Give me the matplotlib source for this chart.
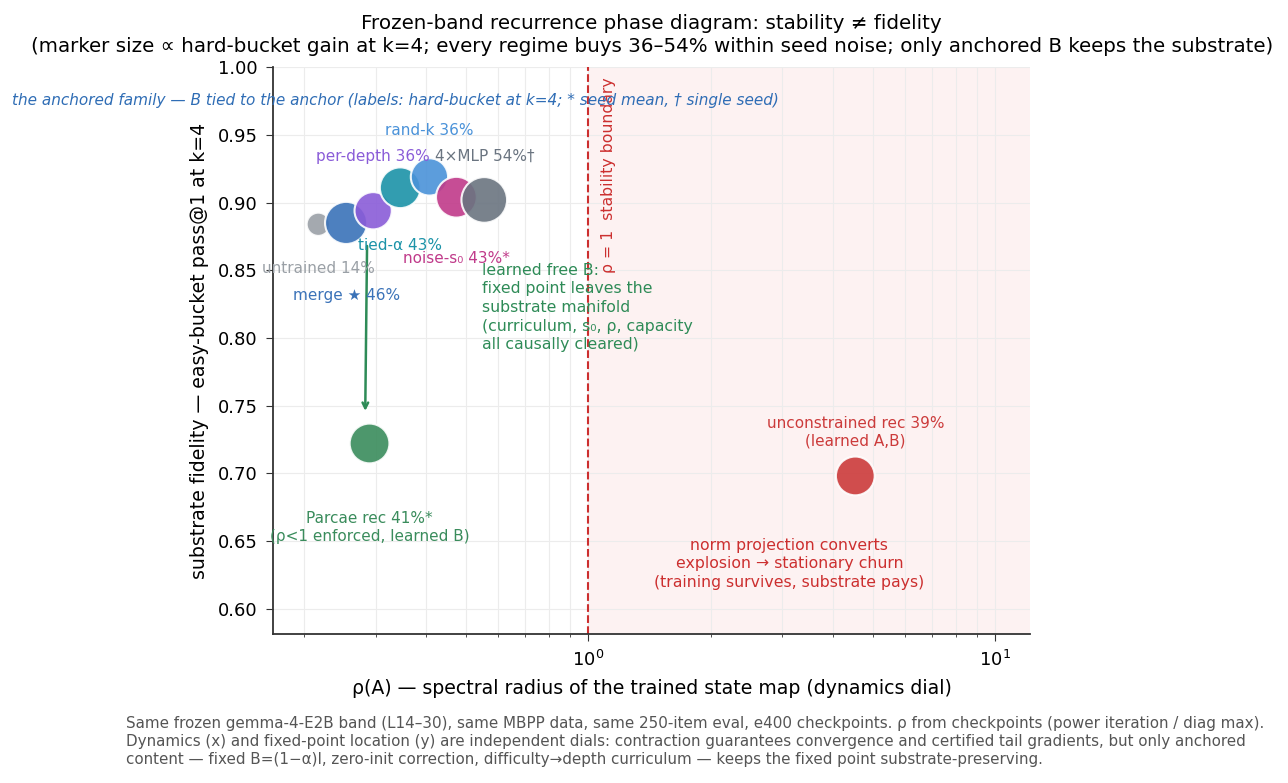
import numpy as np
import matplotlib
matplotlib.use("Agg")
import matplotlib.pyplot as plt

# regimes: rho(A), easy-bucket fidelity, hard-bucket pass@1 at k=4 (%)
names = ["untrained", "merge", "per-depth", "tied-α", "rand-k", "noise-s₀", "4×MLP", "Parcae rec", "unconstrained rec"]
rho = [0.217, 0.254, 0.296, 0.345, 0.407, 0.474, 0.555, 0.290, 4.53]
fidelity = [0.884, 0.885, 0.894, 0.911, 0.919, 0.904, 0.902, 0.722, 0.698]
hard = [14, 46, 36, 43, 36, 43, 54, 41, 39]
colors = ["#9aa0a6", "#3a72b8", "#8a5cd8", "#1b93a8", "#4a92d9", "#c03a8a", "#6a7480", "#3a8c5c", "#cc3b3b"]

labels = ["untrained 14%", "merge ★ 46%", "per-depth 36%", "tied-α 43%", "rand-k 36%",
          "noise-s₀ 43%*", "4×MLP 54%†", "Parcae rec 41%*\n(ρ<1 enforced, learned B)",
          "unconstrained rec 39%\n(learned A,B)"]
label_y = [0.851, 0.831, 0.934, 0.868, 0.953, 0.859, 0.934, 0.660, 0.730]

fig, ax = plt.subplots(figsize=(12.88, 7.83), dpi=100)
fig.subplots_adjust(left=0.212, right=0.800, top=0.914, bottom=0.190)

ax.set_xscale("log")
ax.set_xlim(0.168, 12.2)
ax.set_ylim(0.581, 1.0)

ax.axvspan(1.0, 12.2, color="#fdf2f2", zorder=0)
ax.axvline(1.0, color="#cc2f2f", ls="--", lw=1.5, zorder=1)
ax.text(1.072, 0.993, "ρ = 1  stability boundary", rotation=90, color="#cc2f2f",
        fontsize=11.3, ha="left", va="top")

ax.grid(True, which="both", color="#ececec", lw=0.8, zorder=0)
ax.set_axisbelow(True)

ax.scatter(rho, fidelity, s=[20 * h for h in hard], c=colors, alpha=0.9,
           edgecolors="white", linewidths=1.5, zorder=3)

for lab, x, ly, c in zip(labels, rho, label_y, colors):
    ax.text(x, ly, lab, color=c, fontsize=11, ha="center", va="center", zorder=4)

ax.annotate("", xy=(0.283, 0.744), xytext=(0.286, 0.870),
            arrowprops=dict(arrowstyle="->", color="#2e8b57", lw=1.8), zorder=2)

ax.text(0.336, 0.9755,
        "the anchored family — B tied to the anchor (labels: hard-bucket at k=4; * seed mean, † single seed)",
        color="#2f6db5", fontsize=11, style="italic", ha="center", va="center")

ax.text(0.549, 0.8225,
        "learned free B:\nfixed point leaves the\nsubstrate manifold\n(curriculum, s₀, ρ, capacity\nall causally cleared)",
        color="#2e8b57", fontsize=11.3, ha="left", va="center", linespacing=1.3)

ax.text(3.12, 0.633,
        "norm projection converts\nexplosion → stationary churn\n(training survives, substrate pays)",
        color="#cc2f2f", fontsize=11.3, ha="center", va="center", linespacing=1.3)

for side in ["top", "right"]:
    ax.spines[side].set_visible(False)
for side in ["left", "bottom"]:
    ax.spines[side].set_color("#333333")
    ax.spines[side].set_linewidth(1.3)
ax.tick_params(which="major", labelsize=13, color="#333333", length=5, pad=6)
ax.tick_params(which="minor", color="#333333")

ax.set_xlabel("ρ(A) — spectral radius of the trained state map (dynamics dial)", fontsize=13.6, labelpad=7)
ax.set_ylabel("substrate fidelity — easy-bucket pass@1 at k=4", fontsize=13.6, labelpad=6)
ax.set_title("Frozen-band recurrence phase diagram: stability ≠ fidelity\n"
             "(marker size ∝ hard-bucket gain at k=4; every regime buys 36–54% within seed noise; "
             "only anchored B keeps the substrate)", fontsize=14.3, pad=11, linespacing=1.25)

fig.text(0.098, 0.085,
         "Same frozen gemma-4-E2B band (L14–30), same MBPP data, same 250-item eval, e400 checkpoints. "
         "ρ from checkpoints (power iteration / diag max).\n"
         "Dynamics (x) and fixed-point location (y) are independent dials: contraction guarantees convergence "
         "and certified tail gradients, but only anchored\n"
         "content — fixed B=(1−α)I, zero-init correction, difficulty→depth curriculum — keeps the fixed point "
         "substrate-preserving.",
         fontsize=10.9, color="#555555", ha="left", va="top", linespacing=1.25)

fig.savefig("out.png", dpi=100)
